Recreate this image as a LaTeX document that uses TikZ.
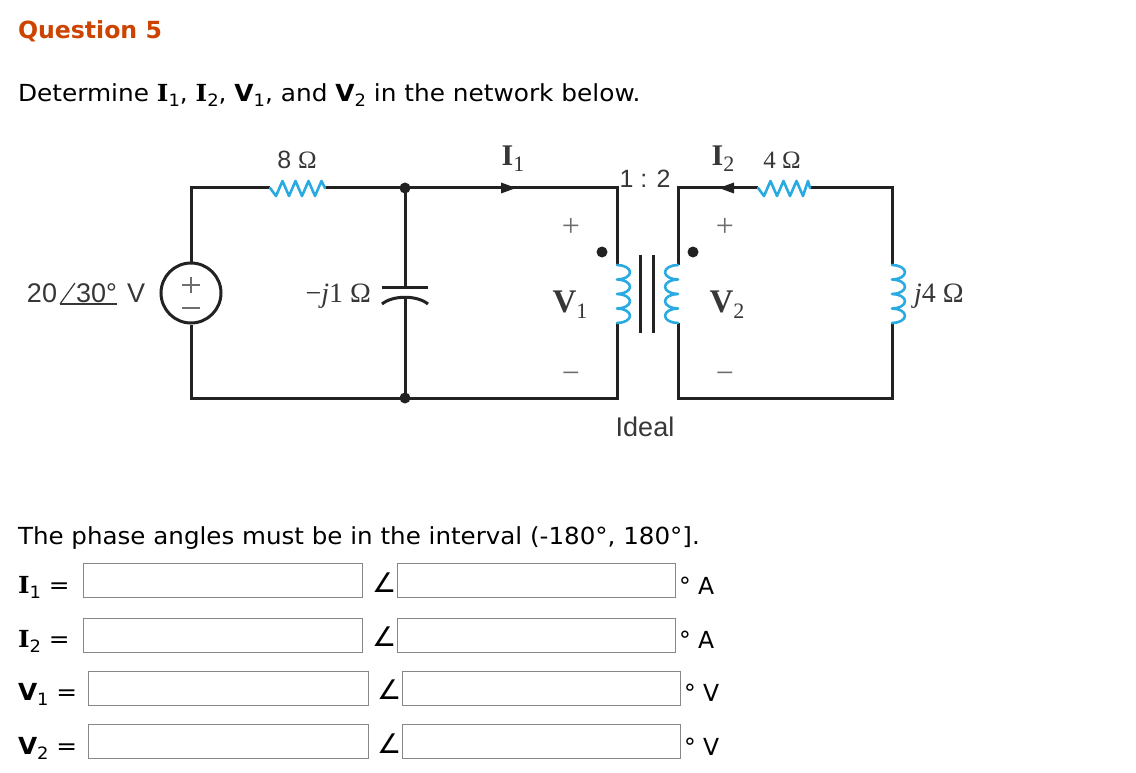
\documentclass[tikz,border=0pt]{standalone}
\usepackage{fontspec}
\setmainfont{DejaVu Sans}
\newfontfamily\hv{Liberation Sans}
\newfontfamily\tm{Liberation Serif}
\newfontfamily\dvserif{DejaVu Serif}
\definecolor{wirec}{RGB}{34,34,34}
\definecolor{compc}{RGB}{41,171,226}
\definecolor{qcol}{RGB}{204,68,0}
\definecolor{lblc}{RGB}{55,55,55}
\definecolor{pmc}{RGB}{110,110,110}
\definecolor{boxc}{RGB}{135,135,135}
\newcommand\bsub[1]{\raisebox{-5pt}{\fontsize{17}{17}\selectfont\mdseries #1}}
\newcommand\lsub[1]{\raisebox{-6pt}{\fontsize{22}{22}\selectfont\tm\mdseries #1}}
\newcommand\body{\fontsize{23.5}{28}\selectfont}
\newcommand\wide[1]{\scalebox{1.055}[1]{#1}}
\tikzset{
  wire/.style={draw=wirec, line width=3pt, line join=miter},
  compo/.style={draw=compc, line width=2.6pt, line join=round, line cap=round},
  txt/.style={inner sep=0pt, outer sep=0pt, anchor=base west},
  lab/.style={inner sep=0pt, outer sep=0pt, text=lblc},
  pm/.style={draw=pmc, line width=1.4pt},
  ansbox/.style={draw=boxc, line width=1.3pt, fill=white, inner sep=0pt, anchor=north west, minimum height=34pt},
  jdot/.style={circle, fill=wirec, inner sep=0pt, minimum size=11pt},
  arr/.style={fill=wirec},
}
\begin{document}
\begin{tikzpicture}[x=1pt,y=-1pt]
\useasboundingbox (0,0) rectangle (1136,773);
% ---------- header text
\node[txt, text=qcol] (q5) at (18,39) {\fontsize{23.6}{28}\selectfont\bfseries Question 5};
\node[txt] (det) at (18,102) {\body\wide{Determine {\dvserif\bfseries I}\bsub{1}, {\dvserif\bfseries I}\bsub{2}, \textbf{V}\bsub{1}, and \textbf{V}\bsub{2} in the network below.}};
% ---------- circuit coordinates
\coordinate (tl) at (191,188);
\coordinate (bl) at (191,398);
\coordinate (r8a) at (270,188);
\coordinate (r8b) at (325,188);
\coordinate (cT) at (405,287);
\coordinate (cB) at (405,297);
\coordinate (pT) at (617,188);
\coordinate (p1) at (617,265);
\coordinate (p2) at (617,323);
\coordinate (pB) at (617,398);
\coordinate (sT) at (678,188);
\coordinate (s1) at (678,265);
\coordinate (s2) at (678,323);
\coordinate (sB) at (678,398);
\coordinate (r4a) at (758,188);
\coordinate (r4b) at (810,188);
\coordinate (rT) at (892,188);
\coordinate (L1) at (892,265);
\coordinate (L2) at (892,323);
\coordinate (rB) at (892,398);
% source
\node[circle, draw=wirec, line width=3pt, minimum size=60pt, inner sep=0pt] (src) at (191,293) {};
\draw[pm] (182,285) -- (200,285) (191,277) -- (191,293);
\draw[pm] (182,308) -- (200,308);
% junction dots
\node[jdot] (nT) at (405,188) {};
\node[jdot] (nB) at (405,398) {};
% wires
\draw[wire] (src.north) -- (tl) -- (r8a);
\draw[wire] (r8b) -- (nT.center) -- (pT) -- (p1);
\draw[wire] (p2) -- (pB) -- (nB.center) -- (bl) -- (src.south);
\draw[wire] (nT.center) -- (cT);
\draw[wire] (cB) -- (nB.center);
\draw[wire] (s1) -- (sT) -- (r4a);
\draw[wire] (r4b) -- (rT) -- (L1);
\draw[wire] (L2) -- (rB) -- (sB) -- (s2);
% capacitor plates
\draw[wire, line cap=butt] (382,287) -- (428,287);
\draw[wire] (382,304) .. controls (393,295) and (417,295) .. (428,304);
% resistors
\draw[compo] (r8a) -- (276,196) -- (282.5,181) -- (289,196) -- (295.5,181) -- (302,196) -- (308.5,181) -- (315,196) -- (321.5,181) -- (r8b);
\draw[compo] (r4a) -- (764,196) -- (770.5,181) -- (777,196) -- (783.5,181) -- (790,196) -- (796.5,181) -- (803,196) -- (808,181) -- (r4b);
% coils
\draw[compo] (p1) \foreach \i in {1,...,4}{ arc[start angle=-90, end angle=90, x radius=13, y radius=7.25]};
\draw[compo] (s1) \foreach \i in {1,...,4}{ arc[start angle=-90, end angle=-270, x radius=13, y radius=7.25]};
\draw[compo] (L1) \foreach \i in {1,...,4}{ arc[start angle=-90, end angle=90, x radius=13, y radius=7.25]};
% core
\draw[wire] (640,255) -- (640,333);
\draw[wire] (653,255) -- (653,333);
% dot marks
\node[jdot] (dp) at (602,252) {};
\node[jdot] (ds) at (693,252) {};
% current arrows
\fill[arr] (516,188) -- (501,182.5) -- (501,193.5) -- cycle;
\fill[arr] (719,188) -- (734,182.5) -- (734,193.5) -- cycle;
% circuit labels
\node[lab] (l8) at (297,160) {\fontsize{25}{25}\selectfont\hv 8 \tm Ω};
\node[lab] (lI1) at (513,159) {\fontsize{30}{30}\selectfont\tm\bfseries I\lsub{1}};
\node[lab] (l12) at (645,179) {\fontsize{25}{25}\selectfont\hv 1 : 2};
\node[lab] (lI2) at (723,159) {\fontsize{30}{30}\selectfont\tm\bfseries I\lsub{2}};
\node[lab] (l4) at (782,160) {\fontsize{25}{25}\selectfont\tm 4 Ω};
\node[lab, text=pmc] (pp1) at (571,227) {\fontsize{32}{32}\selectfont\tm +};
\node[lab, text=pmc] (pm1) at (571,378) {\fontsize{32}{32}\selectfont\tm −};
\node[lab, text=pmc] (pp2) at (725,227) {\fontsize{32}{32}\selectfont\tm +};
\node[lab, text=pmc] (pm2) at (725,378) {\fontsize{32}{32}\selectfont\tm −};
\node[lab] (lV1) at (570,305) {\fontsize{33}{33}\selectfont\tm\bfseries V\lsub{1}};
\node[lab] (lV2) at (727,305) {\fontsize{33}{33}\selectfont\tm\bfseries V\lsub{2}};
\node[lab] (lid) at (645,427) {\fontsize{27}{27}\selectfont\hv Ideal};
\node[lab, anchor=west] (lj4) at (914,296) {\fontsize{28}{28}\selectfont\tm\itshape j\upshape 4 Ω};
\node[lab, anchor=east] (lj1) at (371,296) {\fontsize{28}{28}\selectfont\tm −\itshape j\upshape 1 Ω};
\node[lab, txt] (s20) at (27,302) {\fontsize{27}{27}\selectfont\hv 20};
\node[lab, txt] (s30) at (76,302) {\fontsize{27}{27}\selectfont\hv 30°};
\node[lab, txt] (sV) at (127,302) {\fontsize{27}{27}\selectfont\hv V};
\draw[draw=lblc, line width=1.2pt] (60,304) -- (75,283);
\draw[draw=lblc, line width=1.2pt] (60,304) -- (117,304);
% ---------- answer section
\node[txt] (ph) at (18,544) {\body\scalebox{1.045}[1]{The phase angles must be in the interval (-180°, 180°].}};
% row I1
\node[txt] (rI1) at (18,593) {\body\wide{{\dvserif\bfseries I}\bsub{1} =}};
\node[ansbox, minimum width=279pt] (b11) at (83,563) {};
\node[txt] (a11) at (372,592) {\fontsize{27}{27}\selectfont ∠};
\node[ansbox, minimum width=278pt] (b12) at (397,563) {};
\node[txt] (u1) at (679,594) {\body ° A};
% row I2
\node[txt] (rI2) at (18,647) {\body\wide{{\dvserif\bfseries I}\bsub{2} =}};
\node[ansbox, minimum width=279pt] (b21) at (83,618) {};
\node[txt] (a21) at (372,646) {\fontsize{27}{27}\selectfont ∠};
\node[ansbox, minimum width=278pt] (b22) at (397,618) {};
\node[txt] (u2) at (679,648) {\body ° A};
% row V1
\node[txt] (rV1) at (18,700) {\body\wide{\textbf{V}\bsub{1} =}};
\node[ansbox, minimum width=280pt] (b31) at (88,671) {};
\node[txt] (a31) at (377,699) {\fontsize{27}{27}\selectfont ∠};
\node[ansbox, minimum width=278pt] (b32) at (402,671) {};
\node[txt] (u3) at (684,701) {\body ° V};
% row V2
\node[txt] (rV2) at (18,754) {\body\wide{\textbf{V}\bsub{2} =}};
\node[ansbox, minimum width=280pt] (b41) at (88,724) {};
\node[txt] (a41) at (377,753) {\fontsize{27}{27}\selectfont ∠};
\node[ansbox, minimum width=278pt] (b42) at (402,724) {};
\node[txt] (u4) at (684,755) {\body ° V};
\end{tikzpicture}
\end{document}
